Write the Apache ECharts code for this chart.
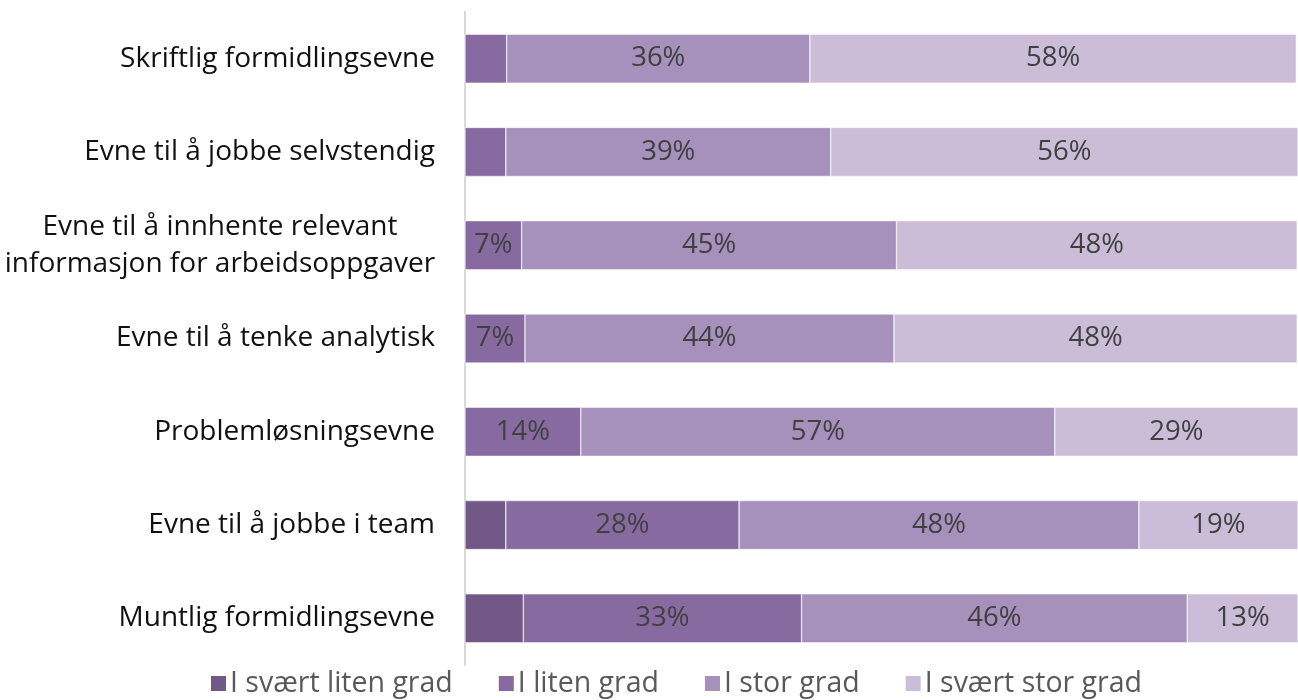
<!DOCTYPE html>
<html>
<head>
<meta charset="utf-8">
<script src="https://cdn.jsdelivr.net/npm/echarts@6/dist/echarts.min.js"></script>
<style>
  html, body { margin: 0; padding: 0; background: #fff; }
  #chart { width: 1298px; height: 700px; }
</style>
</head>
<body>
<div id="chart"></div>
<script>
const categories = [
  'Skriftlig formidlingsevne',
  'Evne til å jobbe selvstendig',
  'Evne til å innhente relevant\ninformasjon for arbeidsoppgaver',
  'Evne til å tenke analytisk',
  'Problemløsningsevne',
  'Evne til å jobbe i team',
  'Muntlig formidlingsevne'
]
const seriesNames = ['I svært liten grad', 'I liten grad', 'I stor grad', 'I svært stor grad']
const sværtLiten = [0, 0, 0, 0, 0, 4.9, 7.0]
const liten = [5.0, 4.9, 6.8, 7.2, 13.9, 28.0, 33.4]
const stor = [36.4, 39.0, 45.0, 44.3, 56.9, 48.0, 46.3]
const sværtStor = [58.4, 56.1, 48.1, 48.4, 29.2, 19.1, 13.3]
const colors = ['#715886', '#866aa0', '#a690bc', '#cbbdd7']

const font = 'Open Sans'
const myChart = echarts.init(document.getElementById('chart'))

const labelFor = (minShow) => ({
  show: true,
  position: 'inside',
  color: '#404040',
  fontFamily: font,
  fontSize: 27.5,
  formatter: (p) => (p.value >= minShow ? Math.round(p.value) + '%' : '')
})

const values = [sværtLiten, liten, stor, sværtStor]
myChart.setOption({
  color: colors,
  animation: false,
  legend: {
    data: seriesNames,
    bottom: -3,
    left: 204,
    icon: 'rect',
    itemWidth: 17,
    itemHeight: 17,
    itemGap: 44,
    textStyle: { color: '#595959', fontFamily: font, fontSize: 28.5, padding: [0, 0, 0, -2] }
  },
  grid: { left: 465, right: 0, top: 12, bottom: 35 },
  xAxis: {
    type: 'value',
    min: 0,
    max: 100,
    show: false
  },
  yAxis: {
    type: 'category',
    inverse: true,
    data: categories,
    axisLine: { show: true, lineStyle: { color: '#d9d9d9', width: 2 } },
    axisTick: { show: false },
    axisLabel: {
      color: '#111111',
      fontFamily: font,
      fontSize: 28,
      margin: 30,
      align: 'right',
      lineHeight: 37,
      // multi-line labels are centred line by line, like the original
      formatter: (v) => v.indexOf('\n') < 0 ? v
        : v.split('\n').map((s) => '{c|' + s + '}').join('\n'),
      rich: {
        c: { width: 430, align: 'center', fontFamily: font, fontSize: 28, color: '#111111', lineHeight: 37 }
      }
    }
  },
  series: values.map((data, i) => ({
    name: seriesNames[i],
    type: 'bar',
    stack: 'total',
    barWidth: 49,
    itemStyle: { borderColor: '#ffffff', borderWidth: 0.5 },
    label: i === 0 ? { show: false } : labelFor(6),
    data: data
  }))
})
</script>
</body>
</html>
